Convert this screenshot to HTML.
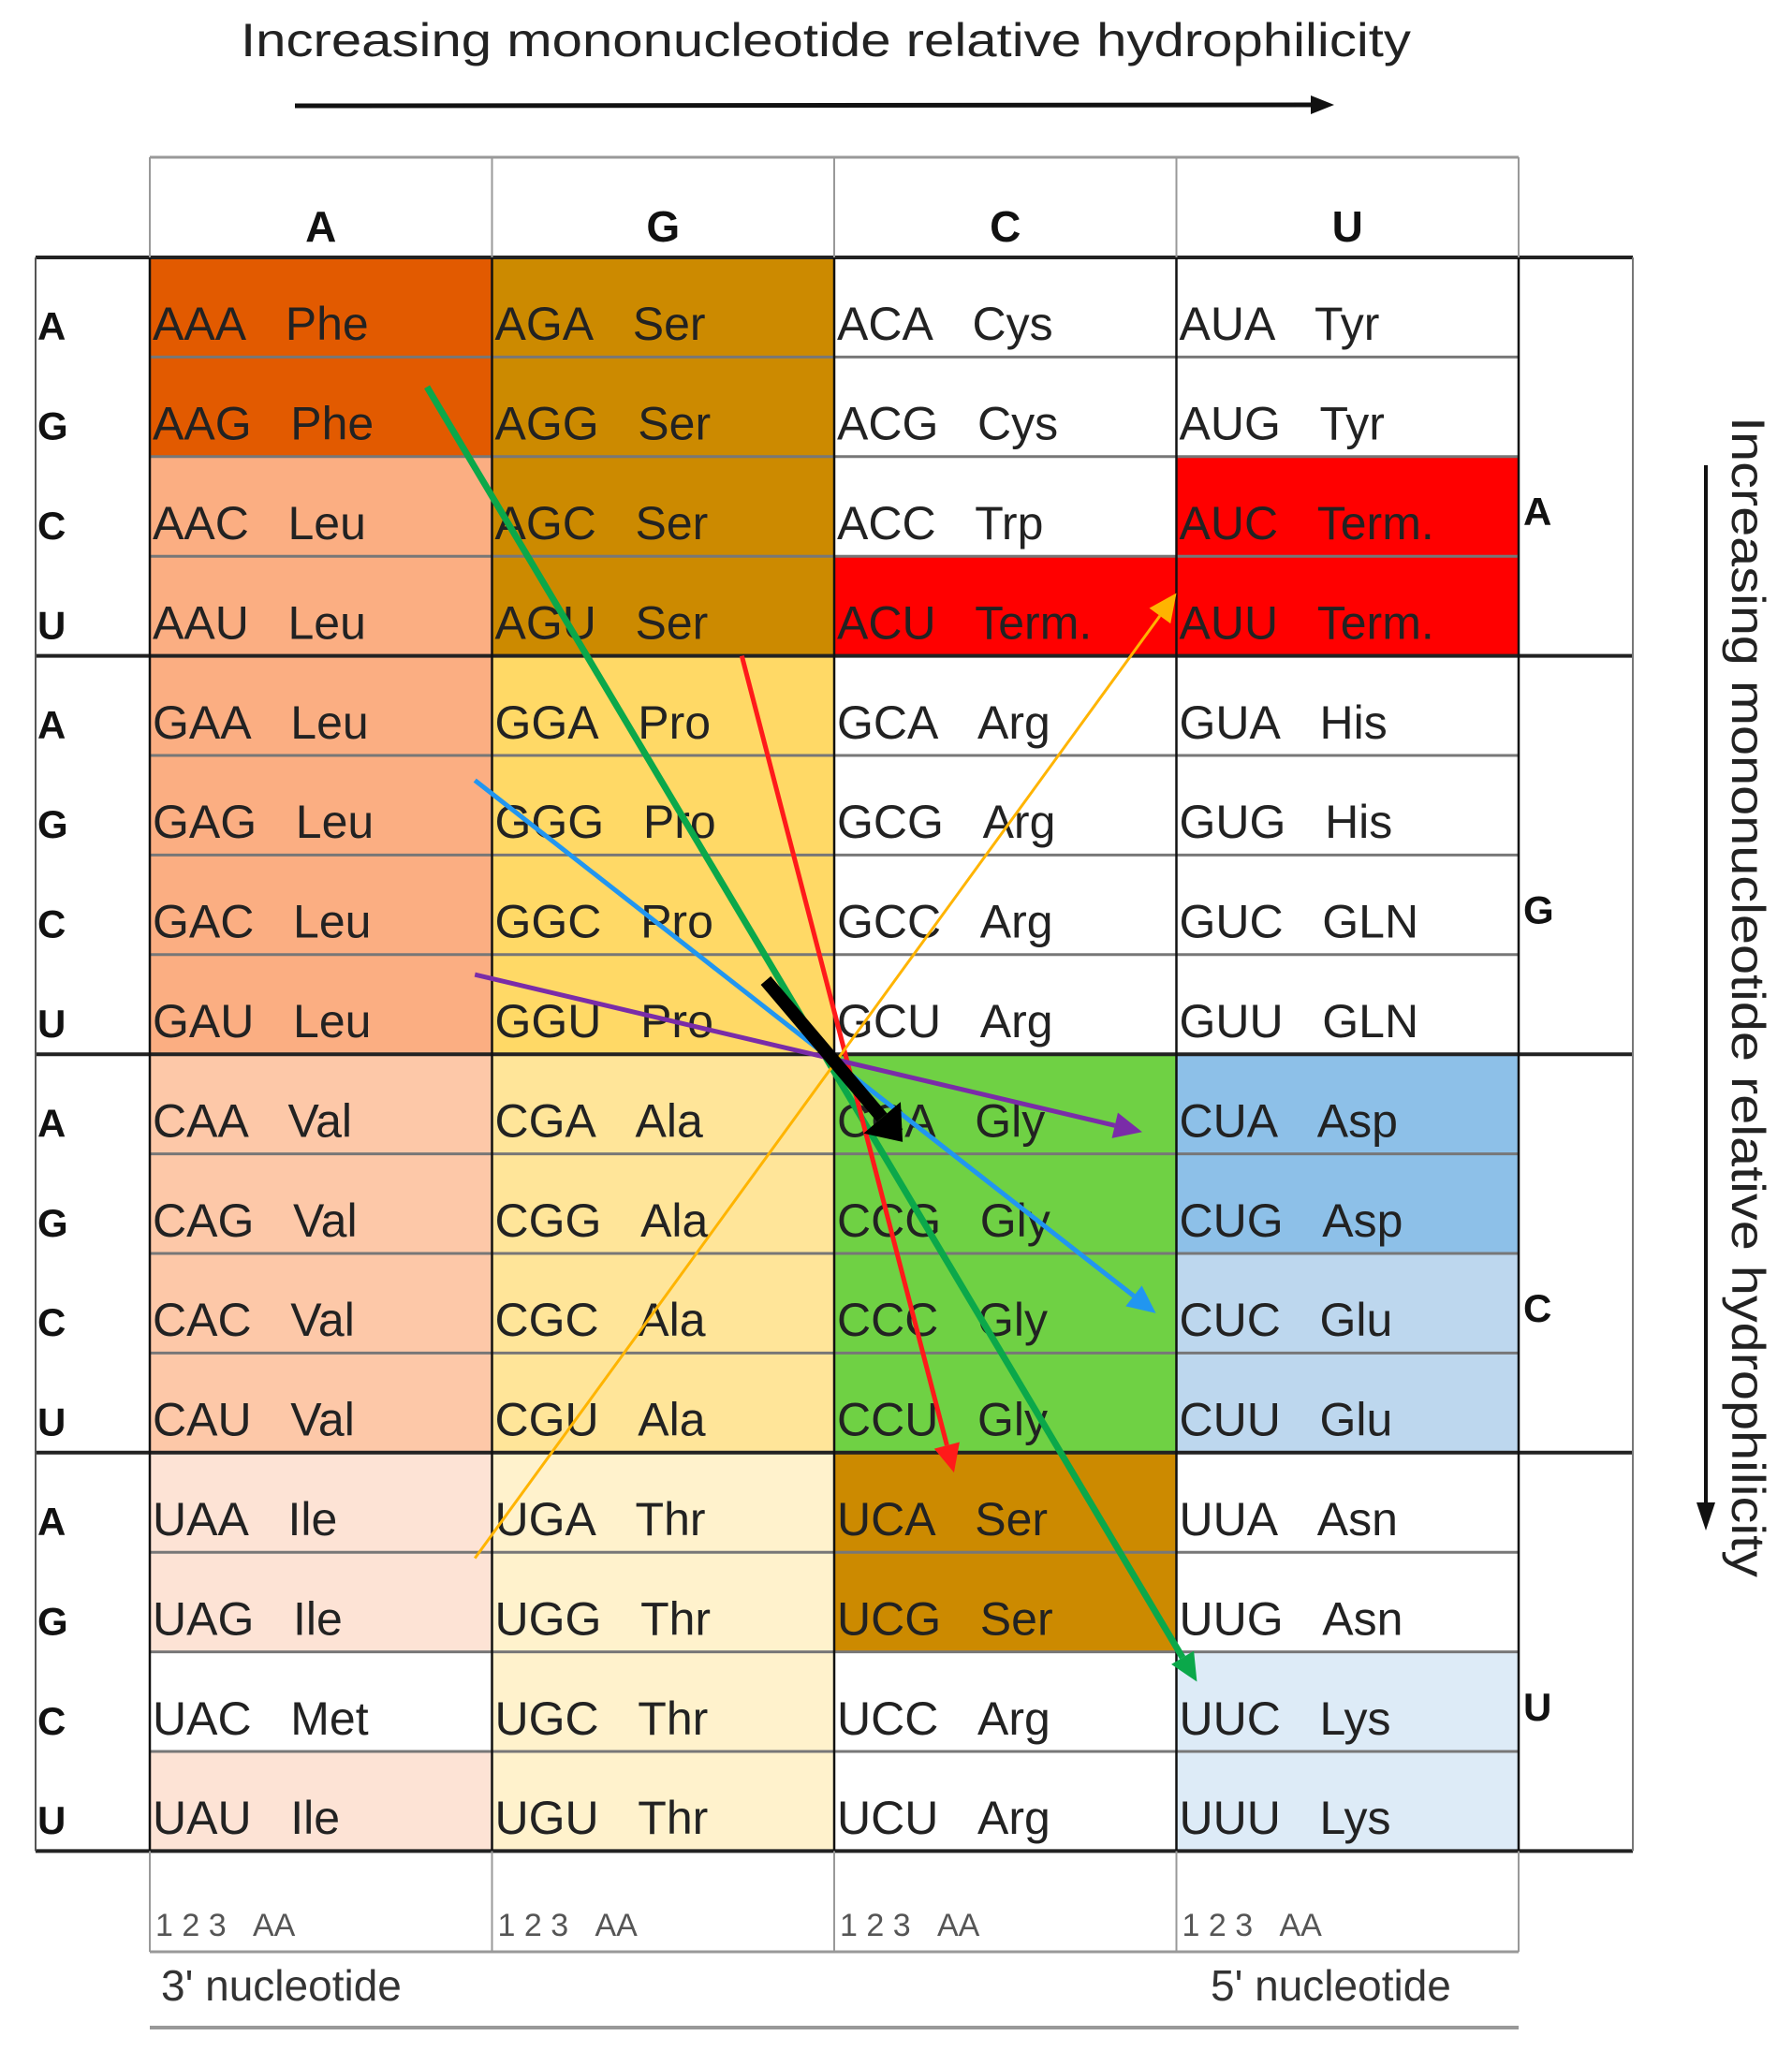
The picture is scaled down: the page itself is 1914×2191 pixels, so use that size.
<!DOCTYPE html>
<html><head><meta charset="utf-8"><style>
html,body{margin:0;padding:0;background:#fff;}
svg{display:block;font-family:"Liberation Sans",sans-serif;}
</style></head><body>
<svg id="chart" width="1914" height="2191" viewBox="0 0 1914 2191" xmlns="http://www.w3.org/2000/svg">
<text x="882" y="60" font-size="50" text-anchor="middle" fill="#222" textLength="1250" lengthAdjust="spacingAndGlyphs">Increasing mononucleotide relative hydrophilicity</text>
<g>
<line x1="315" y1="113" x2="1405" y2="112" stroke="#111" stroke-width="5"/>
<path d="M1400,102 L1425,112 L1400,122 z" fill="#111"/>
</g>
<g>
<line x1="1822" y1="497" x2="1822" y2="1610" stroke="#111" stroke-width="4"/>
<path d="M1812,1605 L1822,1635 L1832,1605 z" fill="#111"/>
</g>
<text transform="translate(1850,1065) rotate(90)" font-size="50" text-anchor="middle" fill="#222" textLength="1240" lengthAdjust="spacingAndGlyphs">Increasing mononucleotide relative hydrophilicity</text>
<g id="grid"></g>
<g id="arrows"></g>
</svg>
<script>
const bases = ["A","G","C","U"];
const aminoAcids = [
 ["Phe","Phe","Leu","Leu","Leu","Leu","Leu","Leu","Val","Val","Val","Val","Ile","Ile","Met","Ile"],
 ["Ser","Ser","Ser","Ser","Pro","Pro","Pro","Pro","Ala","Ala","Ala","Ala","Thr","Thr","Thr","Thr"],
 ["Cys","Cys","Trp","Term.","Arg","Arg","Arg","Arg","Gly","Gly","Gly","Gly","Ser","Ser","Arg","Arg"],
 ["Tyr","Tyr","Term.","Term.","His","His","GLN","GLN","Asp","Asp","Glu","Glu","Asn","Asn","Lys","Lys"]
];
const cellColors = [
 ["#E25A00","#E25A00","#FBAE82","#FBAE82","#FBAE82","#FBAE82","#FBAE82","#FBAE82","#FDC8A8","#FDC8A8","#FDC8A8","#FDC8A8","#FDE3D5","#FDE3D5","#FFFFFF","#FDE3D5"],
 ["#CC8A00","#CC8A00","#CC8A00","#CC8A00","#FFD966","#FFD966","#FFD966","#FFD966","#FFE599","#FFE599","#FFE599","#FFE599","#FFF2CC","#FFF2CC","#FFF2CC","#FFF2CC"],
 ["#FFFFFF","#FFFFFF","#FFFFFF","#FF0000","#FFFFFF","#FFFFFF","#FFFFFF","#FFFFFF","#6FD144","#6FD144","#6FD144","#6FD144","#CC8A00","#CC8A00","#FFFFFF","#FFFFFF"],
 ["#FFFFFF","#FFFFFF","#FF0000","#FF0000","#FFFFFF","#FFFFFF","#FFFFFF","#FFFFFF","#8DC0E8","#8DC0E8","#BDD7EE","#BDD7EE","#FFFFFF","#FFFFFF","#DDEBF7","#DDEBF7"]
];
// arrows in cell units: [startCol, startRow, endCol, endRow]
const arrowNames = ["green-arrow","red-arrow","blue-arrow","purple-arrow","orange-arrow","black-arrow"];
const arrowCoords = [
 [0.81,1.3,3.06,14.3],[1.73,4.0,2.35,12.2],[0.95,5.25,2.94,10.6],[0.95,7.2,2.9,8.78],[0.95,13.06,3.0,3.37],[1.8,7.26,2.2,8.88]
];
const arrowColors = ["#0BA84A","#FF1A1A","#2196F0","#7A2CA8","#FFB400","#000000"];
const arrowWidths = [7,5,5,5,3,14];

const NS="http://www.w3.org/2000/svg";
const X0=160, CW=365.5, Y0=275, RH=106.4, LEFT=38, RIGHT=1744;
const xs=c=>X0+c*CW, ys=r=>Y0+r*RH;
const grid=document.getElementById('grid'), arr=document.getElementById('arrows');
function mk(tag,attrs,parent){const e=document.createElementNS(NS,tag);for(const k in attrs)e.setAttribute(k,attrs[k]);parent.appendChild(e);return e;}

for(let c=0;c<4;c++){
 for(let r=0;r<16;r++){
  const rect=mk('rect',{x:xs(c),y:ys(r),width:CW,height:RH,fill:cellColors[c][r]},grid);
  
  
  const t=mk('text',{x:xs(c)+3,y:ys(r)+RH/2+35,'font-size':50,fill:'#222'},grid);
  
  
  t.textContent=bases[Math.floor(r/4)]+bases[c]+bases[r%4]+"\u00a0\u00a0\u00a0"+aminoAcids[c][r];
 }
 const h=mk('text',{x:xs(c)+CW/2,y:258,'font-size':46,'font-weight':'bold','text-anchor':'middle',fill:'#111'},grid);
 
 
 h.textContent=bases[c];
 const f=mk('text',{x:xs(c)+6,y:2068,'font-size':34,fill:'#555'},grid);
 
 
 f.textContent="1 2 3\u00a0\u00a0\u00a0AA";
}
for(let r=0;r<16;r++){
 const t=mk('text',{x:40,y:ys(r)+RH/2+35,'font-size':42,'font-weight':'bold',fill:'#111'},grid);
 
 
 t.textContent=bases[r%4];
}
for(let b=0;b<4;b++){
 const t=mk('text',{x:1627,y:ys(b*4+2)+RH/2+20,'font-size':42,'font-weight':'bold',fill:'#111'},grid);
 
 
 t.textContent=bases[b];
}
for(let r=1;r<16;r++){ if(r%4) mk('line',{x1:X0,y1:ys(r),x2:xs(4),y2:ys(r),stroke:'#777','stroke-width':3},grid); }
for(let b=0;b<=4;b++) mk('line',{x1:LEFT,y1:ys(b*4),x2:RIGHT,y2:ys(b*4),stroke:'#222','stroke-width':4},grid);
for(let c=0;c<=4;c++){
 mk('line',{x1:xs(c),y1:ys(0),x2:xs(c),y2:ys(16),stroke:'#111','stroke-width':2.5},grid);
 mk('line',{x1:xs(c),y1:168,x2:xs(c),y2:ys(0),stroke:'#999','stroke-width':2},grid);
 mk('line',{x1:xs(c),y1:ys(16),x2:xs(c),y2:2085,stroke:'#999','stroke-width':2},grid);
}
mk('line',{x1:LEFT,y1:ys(0),x2:LEFT,y2:ys(16),stroke:'#555','stroke-width':2},grid);
mk('line',{x1:RIGHT,y1:ys(0),x2:RIGHT,y2:ys(16),stroke:'#777','stroke-width':2},grid);
mk('line',{x1:X0,y1:168,x2:xs(4),y2:168,stroke:'#999','stroke-width':3},grid);
mk('line',{x1:X0,y1:2085,x2:xs(4),y2:2085,stroke:'#999','stroke-width':3},grid);
mk('line',{x1:X0,y1:2166,x2:xs(4),y2:2166,stroke:'#999','stroke-width':4},grid);
const n3=mk('text',{x:172,y:2137,'font-size':46,fill:'#333'},grid);


n3.textContent="3' nucleotide";
const n5=mk('text',{x:1293,y:2137,'font-size':46,fill:'#333'},grid);


n5.textContent="5' nucleotide";

arrowCoords.forEach((a,i)=>{
 const x1=xs(a[0]),y1=ys(a[1]),x2=xs(a[2]),y2=ys(a[3]);
 const g=mk('g',{},arr);
 
 
 const dx=x2-x1,dy=y2-y1,L=Math.hypot(dx,dy),ux=dx/L,uy=dy/L;
 const hl=i===5?34:30, hw=i===5?26:14;
 const bx=x2-ux*hl,by=y2-uy*hl;
 mk('line',{x1:x1,y1:y1,x2:bx,y2:by,stroke:arrowColors[i],'stroke-width':arrowWidths[i]},g);
 mk('path',{d:`M${x2},${y2} L${bx-uy*hw},${by+ux*hw} L${bx+uy*hw},${by-ux*hw} z`,fill:arrowColors[i]},g);
});
</script>
</body></html>
